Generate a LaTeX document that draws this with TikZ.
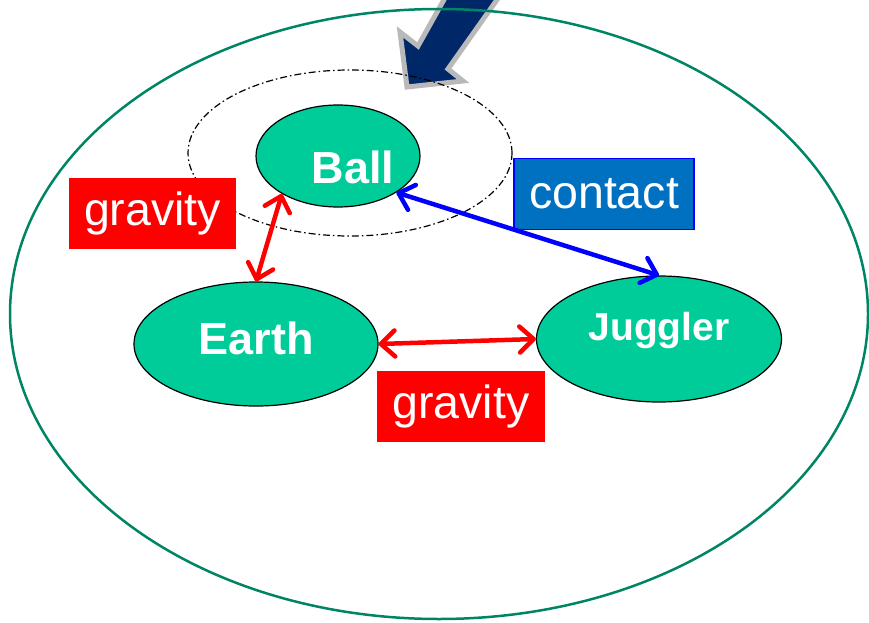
\documentclass[tikz,border=0pt]{standalone}
\usepackage{fontspec}
\setmainfont{Liberation Sans}
\usetikzlibrary{shapes.geometric,arrows.meta}
\definecolor{nodegreen}{RGB}{0,204,153}
\definecolor{outergreen}{RGB}{0,133,100}
\definecolor{navyarrow}{RGB}{0,40,104}
\definecolor{contactblue}{RGB}{0,112,192}
\begin{document}
\begin{tikzpicture}[x=1pt,y=-1pt,
  obj/.style={ellipse, draw=black, line width=1.2pt, fill=nodegreen, inner sep=0pt},
  objtext/.style={text=white, inner sep=0pt, font=\fontsize{45}{50}\selectfont\bfseries},
  lbl/.style={text=white, inner sep=0pt, minimum height=71pt, font=\fontsize{46.5}{50}\selectfont},
  link/.style={line width=4.5pt, <->, >={Straight Barb[length=14pt,width=26pt,line cap=round,line join=round]}}]
\useasboundingbox (0,0) rectangle (869,623);
\clip (0,0) rectangle (869,623);
% big pointer arrow
\filldraw[fill=navyarrow, draw=gray!55, line width=5pt, line join=miter]
  (407,87) -- (400,32) -- (418,46) -- (455,-20) -- (511,-20) -- (448,69) -- (463,81) -- cycle;
% system boundary
\draw[outergreen, line width=2.5pt] (439,314) ellipse [x radius=429, y radius=305];
% dash-dot ellipse around the ball
\draw[dash pattern=on 7pt off 3pt on 1.5pt off 3pt, line width=1.2pt] (350,153) ellipse [x radius=162, y radius=83];
% objects
\node[obj, minimum width=164pt, minimum height=102pt] (ball) at (338,156) {};
\node[obj, minimum width=244pt, minimum height=124pt] (earth) at (256,344) {};
\node[obj, minimum width=245pt, minimum height=126pt] (juggler) at (659,339) {};
\node[objtext] (balltext) at (353,167) {Ball};
\node[objtext] (earthtext) at (256,338) {Earth};
\node[objtext, font=\fontsize{39}{44}\selectfont\bfseries] (jugglertext) at (659,330) {Juggler};
% labels
\node[lbl, fill=red, minimum width=167pt] (grav1) at (152.5,213.5) {gravity};
\node[lbl, fill=contactblue, draw=blue, line width=1.5pt, minimum width=180pt] (contact) at (604,194) {contact};
\node[lbl, fill=red, minimum width=168pt] (grav2) at (461,406.5) {gravity};
% interactions
\draw[link, red] (ball.214) -- (earth.north);
\draw[link, blue] (ball.-32) -- (juggler.north);
\draw[link, red] (earth.east) -- (juggler.west);
\end{tikzpicture}
\end{document}
